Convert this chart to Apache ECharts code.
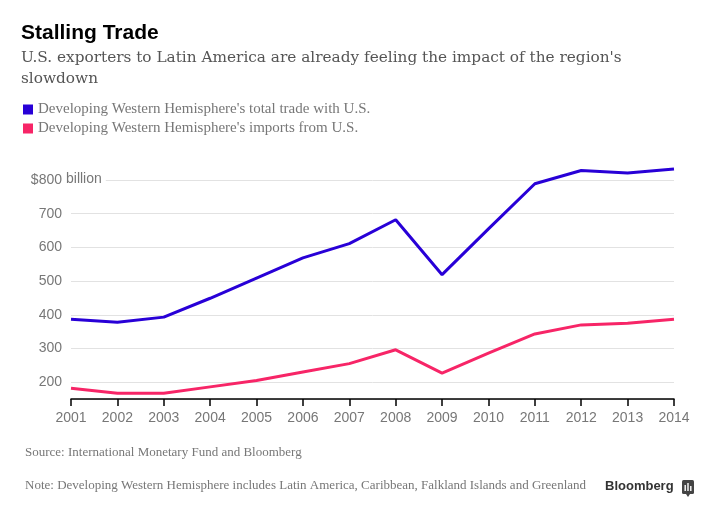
<!DOCTYPE html>
<html>
<head>
<meta charset="utf-8">
<script src="https://cdn.jsdelivr.net/npm/echarts@6/dist/echarts.min.js"></script>
<style>
html,body{margin:0;padding:0;background:#fff;}
#chart{width:720px;height:523px;}
</style>
</head>
<body>
<div id="chart"></div>
<script>
const years = ['2001','2002','2003','2004','2005','2006','2007','2008','2009','2010','2011','2012','2013','2014'];
const totalTrade = [387, 378, 393, 449, 509, 569, 611, 682, 519, 655, 789, 828, 821, 833];
const importsFromUS = [182, 167, 167, 186, 205, 230, 255, 296, 227, 286, 343, 370, 375, 387];
const seriesNames = ["Developing Western Hemisphere's total trade with U.S.", "Developing Western Hemisphere's imports from U.S."];
const yMin = 150, yMax = 800;

const BLUE = '#2800d7', PINK = '#f72567';
const chart = echarts.init(document.getElementById('chart'), null, {renderer:'canvas'});
chart.setOption({
  animation:false,
  backgroundColor:'#fff',
  title:[
    {text:'Stalling Trade', left:21, top:23, padding:0,
     textStyle:{fontFamily:'Liberation Sans', fontWeight:'bold', fontSize:21, color:'#000'}},
    {text:"U.S. exporters to Latin America are already feeling the impact of the region's\nslowdown", left:21, top:48, padding:0,
     textStyle:{fontFamily:'DejaVu Serif', fontWeight:'normal', fontSize:15.3, color:'#555', lineHeight:21}},
    {text:'Source: International Monetary Fund and Bloomberg', left:25, top:446, padding:0,
     textStyle:{fontFamily:'Liberation Serif', fontWeight:'normal', fontSize:13, color:'#777'}},
    {text:'Note: Developing Western Hemisphere includes Latin America, Caribbean, Falkland Islands and Greenland', left:25, top:479, padding:0,
     textStyle:{fontFamily:'Liberation Serif', fontWeight:'normal', fontSize:13, color:'#777'}},
    {text:'Bloomberg', left:605, top:480, padding:0,
     textStyle:{fontFamily:'Liberation Sans', fontWeight:'bold', fontSize:13, color:'#333'}}
  ],
  legend:{
    orient:'vertical', left:23, top:102, padding:0, itemGap:4,
    icon:'rect', itemWidth:10, itemHeight:10,
    textStyle:{fontFamily:'Liberation Serif', fontSize:15, color:'#777', padding:[0,0,0,0]},
    data:seriesNames
  },
  grid:{left:71, right:46, top:180, bottom:124, containLabel:false},
  xAxis:{
    type:'category', data:years, boundaryGap:false,
    axisLine:{lineStyle:{color:'#000', width:1.5}},
    axisTick:{show:true, length:7, lineStyle:{color:'#000', width:1.5}},
    axisLabel:{margin:12, fontFamily:'Liberation Sans', fontSize:14, color:'#777'},
    splitLine:{show:false}
  },
  yAxis:{
    type:'value', min:yMin, max:yMax, minInterval:100, maxInterval:100,
    axisLine:{show:false}, axisTick:{show:false},
    axisLabel:{margin:9, fontFamily:'Liberation Sans', fontSize:14, color:'#777',
      formatter:function(v){ if(v===yMin) return ''; if(v===800) return '$800'; return String(v);} },
    splitLine:{lineStyle:{color:'#e2e2e2', width:1}}
  },
  graphic:[
    {type:'text', left:65, top:172, z:100,
     style:{text:'billion', font:'14px "Liberation Sans"', fill:'#777', backgroundColor:'#fff', padding:[0,4,0,1]}},
    {type:'group', left:682, top:480, z:100, children:[
      {type:'rect', shape:{x:0, y:0, width:12, height:14, r:1.5}, style:{fill:'#444'}},
      {type:'polygon', shape:{points:[[4,14],[8,14],[6,17]]}, style:{fill:'#444'}},
      {type:'rect', shape:{x:2.5, y:5, width:1.4, height:6}, style:{fill:'#fff'}},
      {type:'rect', shape:{x:5.3, y:3, width:1.4, height:8}, style:{fill:'#fff'}},
      {type:'rect', shape:{x:8.1, y:6, width:1.4, height:5}, style:{fill:'#fff'}}
    ]}
  ],
  series:[
    {name:seriesNames[0], type:'line', data:totalTrade, clip:false, symbol:'none',
     lineStyle:{color:BLUE, width:3}, itemStyle:{color:BLUE}, z:3},
    {name:seriesNames[1], type:'line', data:importsFromUS, clip:false, symbol:'none',
     lineStyle:{color:PINK, width:3}, itemStyle:{color:PINK}, z:3}
  ]
});
</script>
</body>
</html>
